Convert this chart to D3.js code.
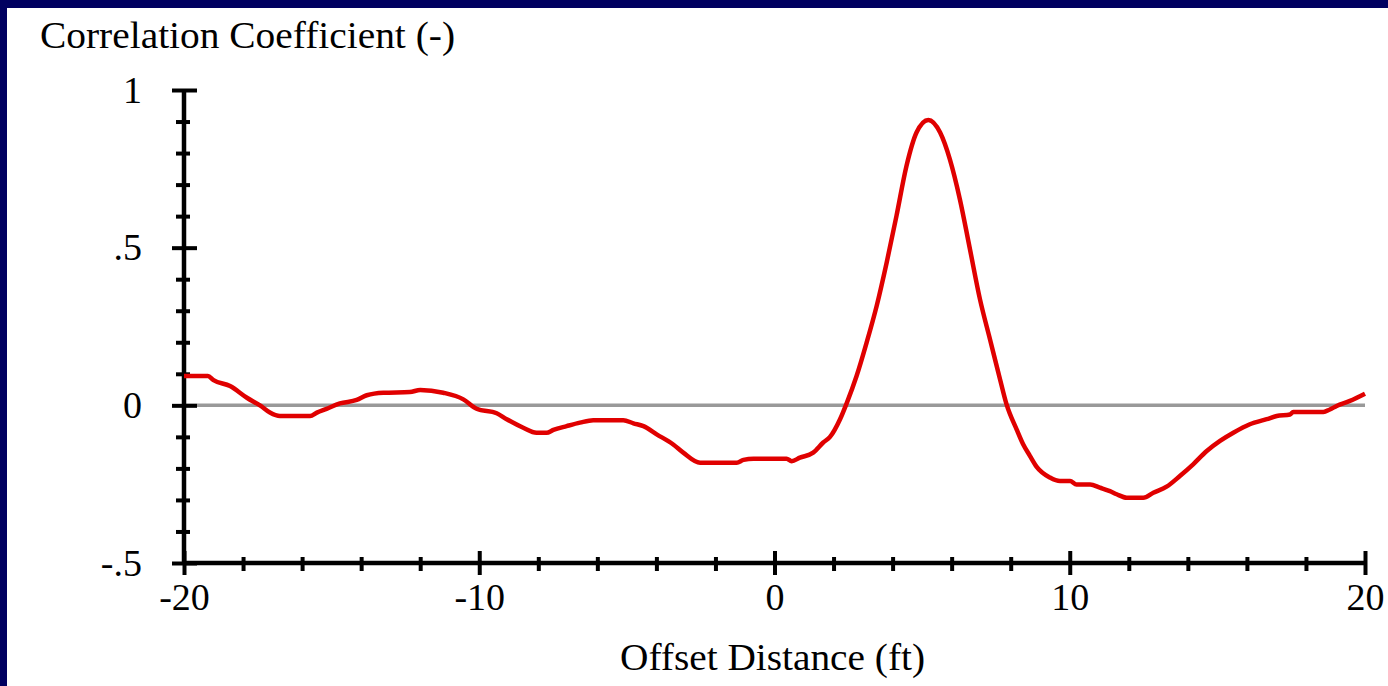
<!DOCTYPE html>
<html lang="en">
  <head>
    <meta charset="UTF-8" />
    <title>Correlation Coefficient</title>
    <script src="https://cdn.jsdelivr.net/npm/d3@7"></script>
    <style>
      body {
        margin: 0;
        overflow: hidden;
        background: #fff;
      }
      text {
        font-family: "Liberation Serif", "Times New Roman", serif;
      }
    </style>
  </head>
  <body>
    <script>
      const width = 1388;
      const height = 686;

      // offset distance (ft)
      const offsets = [
        -20, -19.19, -19.0, -18.44, -17.87, -17.4, -17.09, -16.75, -15.73, -15.5,
        -15.17, -14.72, -14.15, -13.81, -13.25, -12.35, -12.0, -11.22, -10.54,
        -10.09, -9.41, -9.07, -8.51, -8.06, -7.72, -7.49, -7.04, -6.59, -6.14,
        -5.12, -4.78, -4.44, -3.99, -3.43, -3.09, -2.52, -1.28, -1.05, -0.71,
        0.41, 0.58, 0.86, 1.31, 1.65, 1.88, 2.22, 2.45, 2.78, 3.12, 3.46, 3.8,
        4.13, 4.47, 4.81, 5.21, 5.61, 5.94, 6.28, 6.62, 6.96, 7.3, 7.64, 7.86,
        8.2, 8.43, 8.65, 8.88, 9.33, 9.67, 10.01, 10.23, 10.69, 11.02, 11.36,
        11.59, 11.93, 12.49, 12.83, 13.28, 13.73, 14.18, 14.64, 15.09, 15.54,
        16.1, 16.67, 17.01, 17.46, 17.57, 18.59, 18.81, 19.04, 19.49, 20,
      ];
      // correlation coefficient (-)
      const coeffs = [
        0.093, 0.093, 0.08, 0.061, 0.024, -0.002, -0.023, -0.034, -0.034, -0.023,
        -0.011, 0.006, 0.017, 0.032, 0.04, 0.042, 0.049, 0.04, 0.019, -0.011,
        -0.025, -0.044, -0.071, -0.087, -0.087, -0.078, -0.066, -0.055, -0.047,
        -0.047, -0.057, -0.066, -0.092, -0.124, -0.15, -0.182, -0.182, -0.173,
        -0.169, -0.169, -0.177, -0.166, -0.15, -0.118, -0.1, -0.044, 0.008,
        0.093, 0.199, 0.315, 0.453, 0.6, 0.759, 0.865, 0.905, 0.865, 0.78,
        0.653, 0.495, 0.336, 0.209, 0.082, 0.003, -0.076, -0.125, -0.16, -0.195,
        -0.229, -0.24, -0.24, -0.251, -0.251, -0.261, -0.272, -0.282, -0.293,
        -0.293, -0.277, -0.258, -0.224, -0.187, -0.145, -0.113, -0.087, -0.06,
        -0.044, -0.034, -0.029, -0.021, -0.021, -0.013, -0.002, 0.014, 0.037,
      ];

      const xMajor = [-20, -10, 0, 10, 20];
      const xMinor = d3.range(-18, 20, 2).filter((d) => d % 10 !== 0);
      const yMajor = [1, 0.5, 0, -0.5];
      const yLabels = ["1", ".5", "0", "-.5"];
      const yMinor = d3.range(-4, 10).map((d) => d / 10).filter((d) => Math.abs(d * 10) % 5 !== 0);

      const x = d3.scaleLinear().domain([-20, 20]).range([184, 1365]);
      const y = d3.scaleLinear().domain([-0.5, 1]).range([563, 90]);

      const svg = d3
        .select("body")
        .append("svg")
        .attr("width", width)
        .attr("height", height);

      // dark slide frame
      svg.append("rect").attr("x", 0).attr("y", 0).attr("width", width).attr("height", 8).attr("fill", "#000060");
      svg.append("rect").attr("x", 0).attr("y", 0).attr("width", 7).attr("height", height).attr("fill", "#000060");

      // zero line
      svg
        .append("line")
        .attr("x1", x(-20))
        .attr("x2", x(20))
        .attr("y1", y(0))
        .attr("y2", y(0))
        .attr("stroke", "#999")
        .attr("stroke-width", 3.5);

      const fontSize = 38;

      // y axis
      const yAxisMinor = svg
        .append("g")
        .attr("transform", `translate(${x(-20)},0)`)
        .call(d3.axisLeft(y).tickValues(yMinor).tickSize(0).tickFormat(""));
      yAxisMinor.select(".domain").remove();
      yAxisMinor
        .selectAll(".tick line")
        .attr("x1", -8)
        .attr("x2", 6)
        .attr("stroke", "#000")
        .attr("stroke-width", 4);

      const yAxis = svg
        .append("g")
        .attr("transform", `translate(${x(-20)},0)`)
        .call(
          d3
            .axisLeft(y)
            .tickValues(yMajor)
            .tickSize(0)
            .tickPadding(42)
            .tickFormat((d, i) => yLabels[i])
        );
      yAxis.select(".domain").remove();
      yAxis
        .selectAll(".tick line")
        .attr("x1", -12)
        .attr("x2", 13)
        .attr("stroke", "#000")
        .attr("stroke-width", 4);
      yAxis
        .selectAll(".tick text")
        .attr("font-family", "Liberation Serif")
        .attr("font-size", fontSize)
        .attr("fill", "#000")
        .attr("dy", "0.32em");

      // x axis
      const xAxisMinor = svg
        .append("g")
        .attr("transform", `translate(0,${y(-0.5)})`)
        .call(d3.axisBottom(x).tickValues(xMinor).tickSize(0).tickFormat(""));
      xAxisMinor.select(".domain").remove();
      xAxisMinor
        .selectAll(".tick line")
        .attr("y1", -6)
        .attr("y2", 8)
        .attr("stroke", "#000")
        .attr("stroke-width", 4);

      const xAxis = svg
        .append("g")
        .attr("transform", `translate(0,${y(-0.5)})`)
        .call(d3.axisBottom(x).tickValues(xMajor).tickSize(0).tickPadding(20).tickFormat(d3.format("d")));
      xAxis.select(".domain").remove();
      xAxis
        .selectAll(".tick line")
        .attr("y1", -12)
        .attr("y2", 12)
        .attr("stroke", "#000")
        .attr("stroke-width", 4);
      xAxis
        .selectAll(".tick text")
        .attr("font-family", "Liberation Serif")
        .attr("font-size", fontSize)
        .attr("fill", "#000")
        .text((d) => (d < 0 ? "-" + Math.abs(d) : d));

      // axis lines
      svg
        .append("line")
        .attr("x1", x(-20))
        .attr("x2", x(-20))
        .attr("y1", y(1))
        .attr("y2", y(-0.5))
        .attr("stroke", "#000")
        .attr("stroke-width", 4.5);
      svg
        .append("line")
        .attr("x1", x(-20))
        .attr("x2", x(20))
        .attr("y1", y(-0.5))
        .attr("y2", y(-0.5))
        .attr("stroke", "#000")
        .attr("stroke-width", 4.5);

      // data line
      const data = offsets.map((d, i) => ({ x: d, y: coeffs[i] }));
      const line = d3
        .line()
        .x((d) => x(d.x))
        .y((d) => y(d.y))
        .curve(d3.curveMonotoneX);
      svg
        .append("path")
        .datum(data)
        .attr("d", line)
        .attr("fill", "none")
        .attr("stroke", "#e00000")
        .attr("stroke-width", 4.5)
        .attr("stroke-linejoin", "round");

      // titles
      svg
        .append("text")
        .attr("x", 40)
        .attr("y", 48)
        .attr("font-size", fontSize)
        .attr("textLength", 415)
        .attr("lengthAdjust", "spacingAndGlyphs")
        .text("Correlation Coefficient (-)");
      svg
        .append("text")
        .attr("x", 620)
        .attr("y", 670)
        .attr("font-size", fontSize)
        .attr("textLength", 305)
        .attr("lengthAdjust", "spacingAndGlyphs")
        .text("Offset Distance (ft)");
    </script>
  </body>
</html>
